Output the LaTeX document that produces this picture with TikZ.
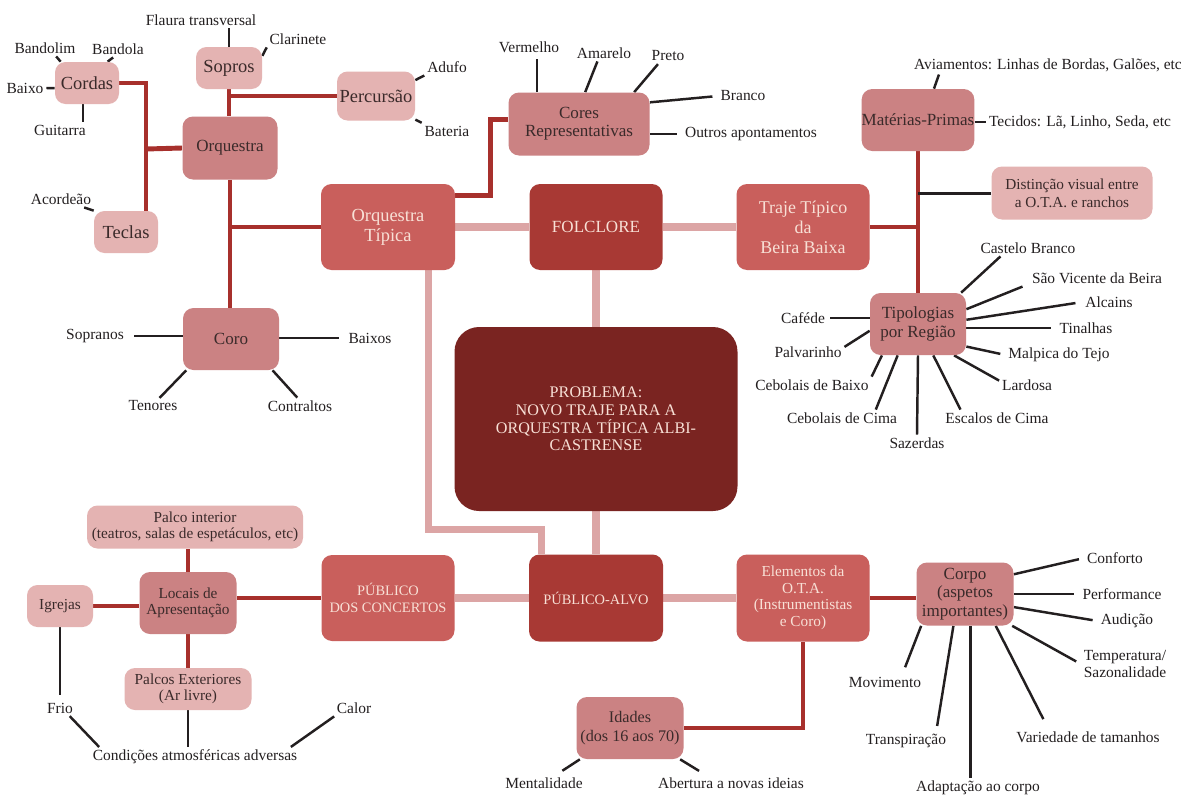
\documentclass[tikz,border=0pt]{standalone}
\usepackage{fontspec}
\setmainfont{Liberation Serif}
\usetikzlibrary{backgrounds}

\definecolor{deepwine}{HTML}{7A2421}
\definecolor{brick}{HTML}{A83934}
\definecolor{rose}{HTML}{C95F5C}
\definecolor{dustypink}{HTML}{CB8283}
\definecolor{blush}{HTML}{E4B3B2}
\definecolor{linkred}{HTML}{A7302C}
\definecolor{linkpink}{HTML}{DCA5A5}
\definecolor{cream}{HTML}{F8E0D6}
\definecolor{inkbrown}{HTML}{3A2A2A}
\definecolor{inkblack}{HTML}{231F20}

\newcommand\leaffont{\fontsize{8.8}{9.4}\selectfont}
\newcommand\smallboxfont{\fontsize{8.7}{9.4}\selectfont}
\newcommand\boxfont{\fontsize{9.7}{10.4}\selectfont}
\newcommand\bigboxfont{\fontsize{10.5}{11.3}\selectfont}
\newcommand\capsfont{\fontsize{8.2}{9.8}\selectfont}
\newcommand\problemfont{\fontsize{9.2}{10}\selectfont}

\tikzset{
    box/.style = { rectangle, rounded corners=6pt, inner sep=0pt, align=center },
    boxsize/.style 2 args = { minimum width=#1*0.02cm, minimum height=#2*0.02cm },
    lightbox/.style = { box, fill=blush, text=inkbrown, font=\smallboxfont },
    pinkbox/.style = { box, fill=dustypink, text=inkbrown, font=\boxfont },
    redbox/.style = { box, fill=rose, text=cream, font=\bigboxfont },
    darkbox/.style = { box, fill=brick, text=cream, font=\capsfont },
    problembox/.style = { box, rounded corners=14pt, fill=deepwine, text=cream, font=\problemfont },
    leaf/.style = { inner sep=1.5pt, text=inkblack, font=\leaffont, align=center },
    twig/.style = { line width=1.4pt, inkblack },
    branch/.style = { line width=2.8pt, linkred },
    trunk/.style = { line width=4pt, linkpink }
}

\begin{document}
\begin{tikzpicture}[x=0.02cm, y=-0.02cm]
    %%% Picture laid out in pixels of the 1181 x 796 sheet, y running down.
    \begin{scope}[on background layer]
      \fill[white] (0,0) rectangle (1181,796);
    \end{scope}
    \useasboundingbox (0,0) rectangle (1181,796);

    %%%
    %%% Core of the map
    %%%
    \node[problembox, boxsize={283}{184}] (problema) at (596,419)
      {PROBLEMA:\\NOVO TRAJE PARA A\\ORQUESTRA TÍPICA ALBI-\\CASTRENSE};
    \node[darkbox, font=\boxfont, boxsize={133}{86}] (folclore) at (596,227) {FOLCLORE};
    \node[darkbox, boxsize={134}{87}] (palvo) at (596,598) {PÚBLICO-ALVO};
    \node[redbox, boxsize={134}{86}] (otipica) at (388,227) {Orquestra\\Típica};
    \node[redbox, font=\fontsize{10.2}{11.3}\selectfont, boxsize={133}{86}] (traje) at (803,227) {Traje Típico\\da\\Beira Baixa};
    \node[redbox, font=\capsfont, boxsize={133}{86}] (pconcertos) at (388,598) {PÚBLICO\\DOS CONCERTOS};
    \node[redbox, font=\smallboxfont, boxsize={133}{87}] (elementos) at (803,598) {Elementos da\\O.T.A.\\(Instrumentistas\\e Coro)};

    %%%
    %%% Orchestra branch
    %%%
    \node[pinkbox, boxsize={95}{63}] (orquestra) at (230,148) {Orquestra};
    \node[pinkbox, boxsize={96}{62}] (coro) at (231,339) {Coro};
    \node[lightbox, font=\bigboxfont, boxsize={64}{42}] (cordas) at (87,83) {Cordas};
    \node[lightbox, font=\bigboxfont, boxsize={66}{42}] (sopros) at (229,68) {Sopros};
    \node[lightbox, font=\bigboxfont, boxsize={78}{49}] (percursao) at (376,96) {Percursão};
    \node[lightbox, font=\bigboxfont, boxsize={64}{42}] (teclas) at (126,232) {Teclas};
    \node[pinkbox, boxsize={141}{63}] (cores) at (579,124) {Cores\\Representativas};

    %%%
    %%% Costume branch
    %%%
    \node[pinkbox, boxsize={112}{62}] (materias) at (918,120) {Matérias-Primas};
    \node[lightbox, font=\fontsize{8.7}{10.4}\selectfont, boxsize={161}{53}] (distincao) at (1072,193) {Distinção visual entre\\a O.T.A. e ranchos};
    \node[pinkbox, boxsize={96}{62}] (tipologias) at (918,324) {Tipologias\\por Região};

    %%%
    %%% Audience branch
    %%%
    \node[pinkbox, font=\smallboxfont, boxsize={97}{62}] (locais) at (188,603) {Locais de\\Apresentação};
    \node[lightbox, boxsize={216}{43}] (palcoint) at (195,527) {Palco interior\\(teatros, salas de espetáculos, etc)};
    \node[lightbox, boxsize={66}{42}] (igrejas) at (60,606) {Igrejas};
    \node[lightbox, boxsize={127}{42}] (palcoext) at (188,689) {Palcos Exteriores\\(Ar livre)};
    \node[pinkbox, boxsize={97}{63}] (corpo) at (965,594) {Corpo\\(aspetos\\importantes)};
    \node[pinkbox, font=\fontsize{9.2}{10.4}\selectfont, boxsize={107}{62}] (idades) at (630,728) {Idades\\(dos 16 aos 70)};

    %%%
    %%% Leaf labels: name, x, y, text
    %%%
    \foreach \name / \x / \y / \txt in {
        bandolim/45/48/Bandolim, bandola/118/49/Bandola, baixo/25/88/Baixo,
        guitarra/60/130/Guitarra, flaura/201/20/Flaura transversal,
        clarinete/298/39/Clarinete, adufo/447/67/Adufo, bateria/447/131/Bateria,
        acordeao/61/199/Acordeão, sopranos/95/336/Sopranos, baixos/370/338/Baixos,
        tenores/153/406/Tenores, contraltos/300/406/Contraltos,
        vermelho/529/47/Vermelho, amarelo/604/53/Amarelo, preto/668/56/Preto,
        branco/743/96/Branco, outros/751/134/Outros apontamentos,
        aviamentos/1048/65/{Aviamentos: Linhas de Bordas, Galões, etc},
        tecidos/1080/122/{Tecidos: Lã, Linho, Seda, etc},
        cafede/803/318/Caféde, palvarinho/808/352/Palvarinho,
        cbaixo/812/385/Cebolais de Baixo, ccima/842/418/Cebolais de Cima,
        sazerdas/917/443/Sazerdas, escalos/997/418/Escalos de Cima,
        lardosa/1027/385/Lardosa, malpica/1059/355/Malpica do Tejo,
        tinalhas/1086/328/Tinalhas, alcains/1109/302/Alcains,
        svicente/1097/278/São Vicente da Beira, cbranco/1028/248/Castelo Branco,
        conforto/1115/558/Conforto, performance/1122/594/Performance,
        audicao/1127/621/Audição, variedade/1088/737/Variedade de tamanhos,
        adaptacao/978/788/Adaptação ao corpo, transpiracao/906/741/Transpiração,
        movimento/885/682/Movimento, frio/60/708/Frio, calor/354/708/Calor,
        condicoes/195/757/Condições atmosféricas adversas,
        mentalidade/544/783/Mentalidade, abertura/731/783/Abertura a novas ideias}
      {
        \node[leaf] (\name) at (\x,\y) {\txt};
      }
    \node[leaf] (temperatura) at (1125,664) {Temperatura/\\Sazonalidade};

    %%%
    %%% Connectors, kept behind the boxes
    %%%
    \begin{scope}[on background layer]
      % Light trunk round the problem
      \draw[trunk] (otipica.east) -- (folclore.west);
      \draw[trunk] (folclore.east) -- (traje.west);
      \draw[trunk] (folclore.south) -- (problema.north);
      \draw[trunk] (problema.south) -- (palvo.north);
      \draw[trunk] (pconcertos.east) -- (pconcertos.east -| palvo.west);
      \draw[trunk] (palvo.east) -- (elementos.west);
      \draw[trunk] (otipica.-47) |- ([yshift=0.5cm]palvo.141) -- (palvo.141);

      % Dark red branches
      \coordinate (keybus) at (146,149);
      \draw[branch] (cordas.east) -| (keybus |- teclas.north);
      \draw[branch] (keybus) -- (orquestra.west);
      \draw[branch] (sopros.south) -- (sopros.south |- orquestra.north);
      \draw[branch] (percursao.west) -- (percursao.west -| orquestra.north);
      \draw[branch] (orquestra.south) -- (orquestra.south |- coro.north);
      \draw[branch] (otipica.west) -- (otipica.west -| orquestra.south);
      \draw[branch] (otipica.25) -- ++(35,0) |- (cores.176);
      \draw[branch] (traje.east) -- (traje.east -| materias.south);
      \draw[branch] (materias.south) -- (tipologias.north);
      \draw[twig, line width=1.7pt] (distincao.west) -- (distincao.west -| materias.south);
      \draw[branch] (locais.north) -- (locais.north |- palcoint.south);
      \draw[branch] (locais.south) -- (locais.south |- palcoext.north);
      \draw[branch] (igrejas.east) -- (igrejas.east -| locais.west);
      \draw[branch] (pconcertos.west -| locais.east) -- (pconcertos.west);
      \draw[branch] (elementos.east) -- (elementos.east -| corpo.west);
      \draw[branch] (elementos.south) |- (idades.east);

      % Black twigs out to the labels: from, to, gap
      \foreach \from / \to / \gap in {
          cordas.141/bandolim.-37/0pt, cordas.46/bandola.-120/0pt,
          cordas.189/baixo.east/0pt, sopros.20/clarinete.south west/0pt,
          percursao.22/adufo.south west/0pt, percursao.-31/bateria.north west/0pt,
          teclas.north west/acordeao.-20/0pt,
          coro.215/tenores.51/0pt, coro.-37/contraltos.108/0pt,
          cores.79/amarelo.-128/0pt, cores.30/preto.-141/0pt, cores.17/branco.west/3pt,
          materias.63/aviamentos.185/0pt,
          tipologias.188/palvarinho.8/0pt, tipologias.221/cbaixo.8/0pt,
          tipologias.237/ccima.14/0pt, tipologias.south/sazerdas.north/0pt,
          tipologias.-64/escalos.167/0pt, tipologias.-41/lardosa.171/0pt,
          tipologias.-25/malpica.west/3pt, tipologias.5/alcains.west/4pt,
          tipologias.17/svicente.185/4pt, tipologias.36/cbranco.197/0pt,
          corpo.22/conforto.west/3pt, corpo.-15/audicao.west/3pt,
          corpo.-34/temperatura.west/3pt, corpo.-46/variedade.168/6pt,
          corpo.250/transpiracao.18/3pt, corpo.216/movimento.25/4pt,
          igrejas.south/frio.north/3pt, frio.-40/condicoes.174/0pt,
          calor.203/condicoes.6/0pt,
          idades.-148/mentalidade.34/4pt, idades.-32/abertura.162/4pt}
        {
          \draw[twig, shorten >=\gap] (\from) -- (\to);
        }
      % Straight twigs
      \draw[twig] (cordas.-100) -- (cordas.-100 |- guitarra.north);
      \draw[twig] (sopros.north) -- (sopros.north |- flaura.south);
      \draw[twig, shorten >=4pt] (coro.west |- sopranos) -- (sopranos.east);
      \draw[twig, shorten >=4pt] (coro.east |- baixos) -- (baixos.west);
      \draw[twig, shorten >=2pt] (cores.143) -- (cores.143 |- vermelho.south);
      \draw[twig, shorten >=3pt] (cores.east |- outros) -- (outros.west);
      \draw[twig] (materias.east |- tecidos) -- (tecidos.west);
      \draw[twig, shorten >=1pt] (tipologias.west |- cafede) -- (cafede.east);
      \draw[twig, shorten >=3pt] (tipologias.east |- tinalhas) -- (tinalhas.west);
      \draw[twig, shorten >=3pt] (corpo.east |- performance) -- (performance.west);
      \draw[twig] (corpo.-80) -- (corpo.-80 |- adaptacao.north);
      \draw[twig] (palcoext.south) -- (palcoext.south |- condicoes.north);
    \end{scope}
\end{tikzpicture}
\end{document}
